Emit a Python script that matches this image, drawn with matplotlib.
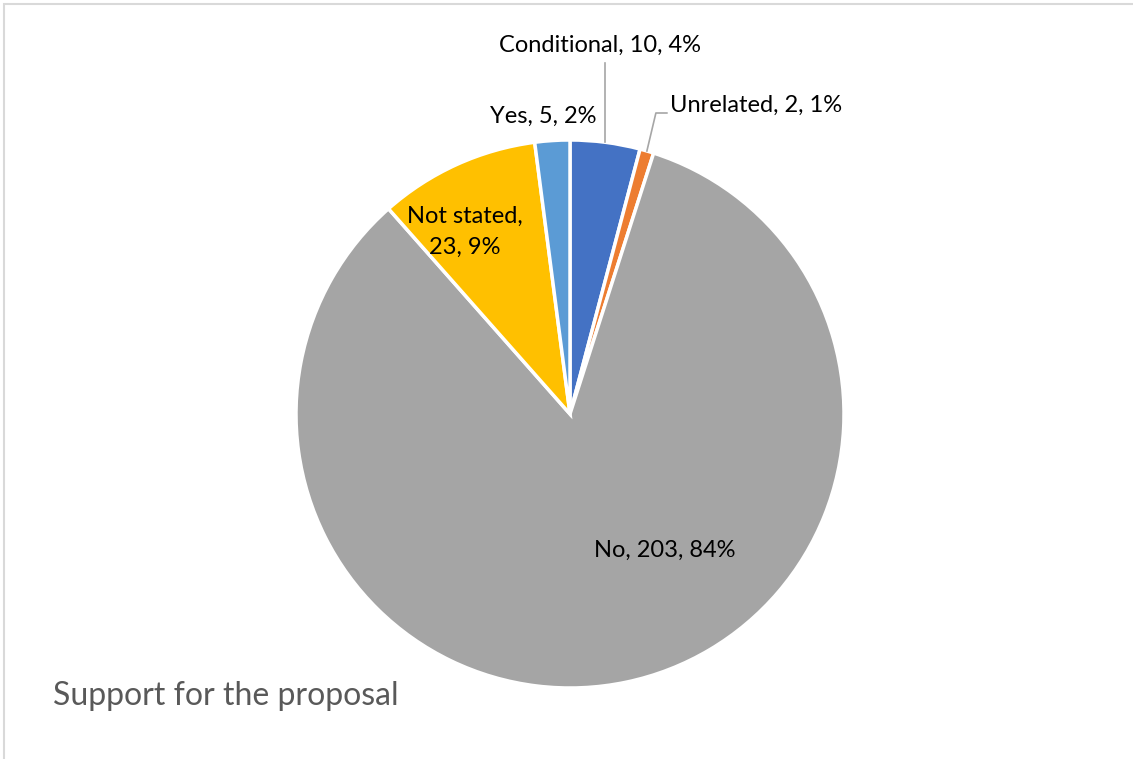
import numpy as np
import matplotlib
matplotlib.use("Agg")
import matplotlib.pyplot as plt
from matplotlib.patches import Rectangle

categories = ["Conditional", "Unrelated", "No", "Not stated", "Yes"]
values = [10, 2, 203, 23, 5]
percents = ["4%", "1%", "84%", "9%", "2%"]
colors = ["#4472C4", "#ED7D31", "#A5A5A5", "#FFC000", "#5B9BD5"]
title = "Support for the proposal"

W, H = 1133, 759
fig = plt.figure(figsize=(W / 100, H / 100), dpi=100)
ax = fig.add_axes([0, 0, 1, 1])

cx, cy, R = 570, H - 414, 274
wedges, _ = ax.pie(values, colors=colors, startangle=90, counterclock=False,
                   center=(cx, cy), radius=R, frame=True,
                   wedgeprops=dict(edgecolor="white", linewidth=2.5))
ax.set_xlim(0, W)
ax.set_ylim(0, H)
ax.axis("off")

font = "Lato"
fs = 17
labels = [f"{c}, {v}, {p}" for c, v, p in zip(categories, values, percents)]

def edge_point(w):
    a = np.deg2rad((w.theta1 + w.theta2) / 2)
    return cx + R * np.cos(a), cy + R * np.sin(a)

# Conditional: label above, vertical leader
ex, ey = edge_point(wedges[0])
ax.text(600, H - 45, labels[0], ha="center", va="center", fontsize=fs, family=font, color="black")
ax.plot([ex, ex], [ey, H - 63], color="#A6A6A6", lw=1.2)

# Unrelated: label right, bent leader
ex, ey = edge_point(wedges[1])
ax.text(670, H - 105, labels[1], ha="left", va="center", fontsize=fs, family=font, color="black")
ax.plot([ex, ex + 9, ex + 20], [ey, H - 113, H - 113], color="#A6A6A6", lw=1.2)

# No
ax.text(665, H - 550, labels[2], ha="center", va="center", fontsize=fs, family=font, color="black")
# Not stated
ax.text(465, H - 232, "Not stated,\n23, 9%", ha="center", va="center", fontsize=fs,
        family=font, color="black", linespacing=1.55)
# Yes
ax.text(543, H - 116, labels[4], ha="center", va="center", fontsize=fs, family=font, color="black")

# Title
ax.text(53, H - 696, title, ha="left", va="center", fontsize=23, family=font, color="#595959")

# Chart border
fig.patches.append(Rectangle((4 / W, -0.01), 1.1, (H - 4) / H + 0.01, transform=fig.transFigure,
                             fill=False, edgecolor="#D9D9D9", lw=1.5))

fig.savefig("out.png", dpi=100, facecolor="white")
